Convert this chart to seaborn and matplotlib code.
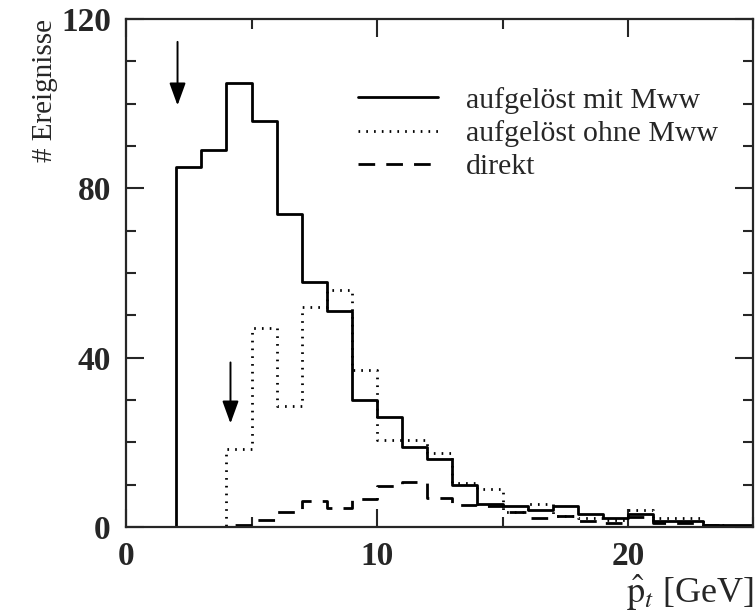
import numpy as np
import pandas as pd
import seaborn as sns
import matplotlib.pyplot as plt
from matplotlib.ticker import MultipleLocator

# bins 0..25 GeV, 1 GeV wide
centers = np.arange(0.5, 25, 1.0)

# counts per bin
mit_mww = [0, 0, 85, 89, 105, 96, 74, 58, 51, 30, 26, 19, 16, 10, 5.5, 5, 4, 5, 3, 2.2, 3, 1.5, 1.5, 0.5, 0.5]
ohne_mww = [0, 0, 0, 0, 18.5, 47, 28.5, 52, 56, 37, 20.5, 20.5, 17.5, 10.5, 9, 3.5, 5.5, 2.6, 2.2, 1.7, 4, 2.2, 2.2, 0.5, 0]
direkt = [0, 0, 0, 0, 0.5, 1.8, 3.5, 6.2, 4.6, 6.7, 9.7, 10.6, 7, 5.2, 5, 3.6, 2.2, 2.6, 1.5, 1, 2.5, 1, 1, 0.5, 0]

labels = ['aufgelöst mit Mww', 'aufgelöst ohne Mww', 'direkt']
styles = ['-', (0, (0.6, 2.2)), (0, (6, 4))]

# cut positions (arrow x, tip, tail)
cut_x = [2.05, 4.16]
cut_tip = [99.6, 24.5]
cut_tail = [114.6, 38.9]

df = pd.DataFrame({'pt': np.tile(centers, 3),
                   'n': mit_mww + ohne_mww + direkt,
                   'kurve': np.repeat(labels, len(centers))})

sns.set_style('ticks')
plt.rcParams['font.family'] = ['Liberation Serif', 'DejaVu Serif']
plt.rcParams['mathtext.fontset'] = 'stix'

fig = plt.figure(figsize=(7.55, 6.13), dpi=100)
ax = fig.add_axes([0.167, 0.140, 0.831, 0.829])

for lab, ls in zip(labels, styles):
    sub = df[df['kurve'] == lab]
    sns.histplot(data=sub, x='pt', weights='n', binwidth=1, binrange=(0, 25),
                 element='step', fill=False, color='black', linestyle=ls,
                 linewidth=2.0, label=lab, ax=ax)

ax.set_xlim(0, 25)
ax.set_ylim(0, 120)

# arrows marking the cuts
for x, tip, tail in zip(cut_x, cut_tip, cut_tail):
    ax.annotate('', xy=(x, tip), xytext=(x, tail),
                arrowprops=dict(arrowstyle='-|>,head_length=0.55,head_width=0.2',
                                color='black', lw=1.4, mutation_scale=25,
                                shrinkA=0, shrinkB=0))

ax.xaxis.set_major_locator(MultipleLocator(10))
ax.xaxis.set_minor_locator(MultipleLocator(5))
ax.yaxis.set_major_locator(MultipleLocator(40))
ax.yaxis.set_minor_locator(MultipleLocator(10))
ax.tick_params(which='both', direction='in', top=True, right=True, width=1.5)
ax.tick_params(which='major', length=13)
ax.tick_params(which='minor', length=7)
ax.tick_params(axis='y', pad=11)
ax.tick_params(axis='x', pad=10)
for t in ax.get_xticklabels() + ax.get_yticklabels():
    t.set_fontsize(24)
    t.set_fontweight('bold')
for s in ax.spines.values():
    s.set_linewidth(1.6)

ax.set_ylabel('# Ereignisse', fontsize=21, loc='top', labelpad=2)
ax.set_xlabel(r'$\hat{\mathrm{p}}_t$ [GeV]', fontsize=26, loc='right', labelpad=0)

leg = ax.legend(loc='upper left', bbox_to_anchor=(0.351, 0.89), frameon=False,
                fontsize=21.5, handlelength=2.68, handletextpad=0.94,
                labelspacing=0.21, borderaxespad=0)
for h in leg.get_lines():
    h.set_linewidth(2.0)

fig.savefig('out.png', dpi=100)
